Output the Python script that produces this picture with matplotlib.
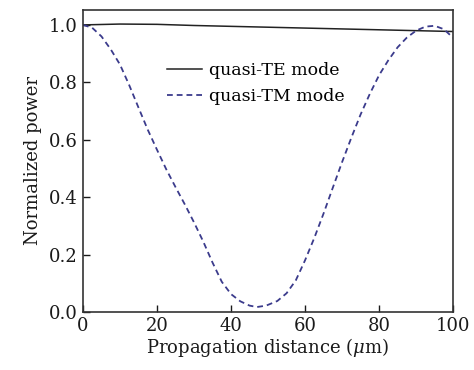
import numpy as np
import matplotlib
matplotlib.use("Agg")
import matplotlib.pyplot as plt

# values
distance_te = [0, 10, 20, 30, 40, 50, 60, 70, 80, 90, 100]
power_te = [1.000, 1.003, 1.002, 0.998, 0.995, 0.992, 0.989, 0.986, 0.983, 0.980, 0.977]

distance_tm = [0, 2.5, 5, 7.5, 10, 12.5, 15, 17.5, 20, 22.5, 25, 27.5, 30, 32.5, 35,
               37.5, 40, 42.5, 45, 47, 49.5, 52.5, 55, 57.5, 60, 62.5, 65, 67.5, 70,
               72.5, 75, 77.5, 80, 82.5, 85, 87.5, 90, 92.5, 95, 97.5, 100]
power_tm = [1.000, 0.990, 0.960, 0.915, 0.862, 0.790, 0.712, 0.635, 0.565, 0.497, 0.435,
            0.375, 0.312, 0.245, 0.172, 0.105, 0.062, 0.037, 0.022, 0.017, 0.022, 0.038,
            0.065, 0.110, 0.180, 0.258, 0.343, 0.433, 0.522, 0.607, 0.688, 0.760, 0.825,
            0.877, 0.922, 0.956, 0.980, 0.994, 0.997, 0.985, 0.955]

plt.rcParams['font.family'] = ['DejaVu Serif']
plt.rcParams['mathtext.fontset'] = 'dejavuserif'

fig = plt.figure(figsize=(4.74, 3.70), dpi=100)
ax = fig.add_axes([0.175, 0.157, 0.781, 0.816])

ax.plot(distance_te, power_te, color='#222222', lw=1.1, label='quasi-TE mode')
ax.plot(distance_tm, power_tm, color='#3b3b8c', lw=1.3, ls=(0, (3.2, 2.2)), label='quasi-TM mode')

ax.set_xlim(0, 100)
ax.set_ylim(0, 1.052)
ax.set_xticks([0, 20, 40, 60, 80, 100])
ax.set_yticks([0.0, 0.2, 0.4, 0.6, 0.8, 1.0])
ax.set_yticklabels(['0.0', '0.2', '0.4', '0.6', '0.8', '1.0'])
ax.tick_params(direction='in', length=5, width=1, labelsize=13, colors='#1a1a1a',
               top=False, right=False)
for sp in ax.spines.values():
    sp.set_linewidth(1.2)
    sp.set_color('#333333')

ax.set_xlabel(r'Propagation distance ($\mu$m)', fontsize=13, labelpad=1, color='#1a1a1a')
ax.set_ylabel('Normalized power', fontsize=13, labelpad=5, color='#1a1a1a')

ax.legend(loc='upper left', bbox_to_anchor=(0.209, 0.85), frameon=False, fontsize=12.5,
          handlelength=2.0, handletextpad=0.4, labelspacing=0.5, borderaxespad=0)

fig.savefig('out.png', dpi=100)
